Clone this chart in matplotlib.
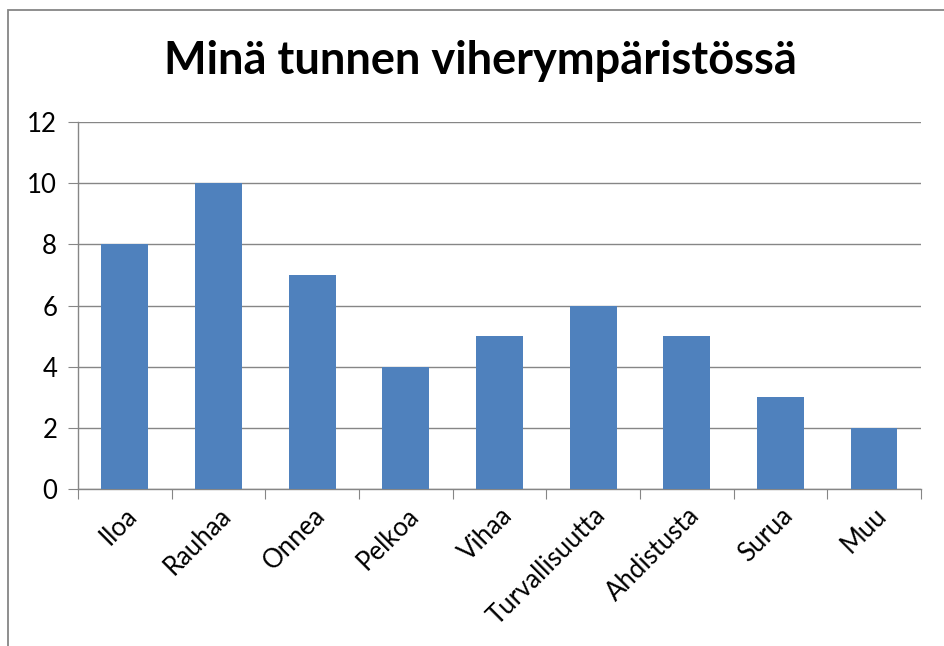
import matplotlib
matplotlib.use("Agg")
import matplotlib.pyplot as plt
from matplotlib.patches import Rectangle

categories = ['Iloa', 'Rauhaa', 'Onnea', 'Pelkoa', 'Vihaa', 'Turvallisuutta',
              'Ahdistusta', 'Surua', 'Muu']
values = [8, 10, 7, 4, 5, 6, 5, 3, 2]
yticks = [0, 2, 4, 6, 8, 10, 12]

plt.rcParams['font.family'] = ['Lato', 'DejaVu Sans']

fig = plt.figure(figsize=(9.45, 6.46), dpi=100)
ax = fig.add_axes([0.0825, 0.243, 0.892, 0.568])

x = range(len(categories))
ax.bar(x, values, width=0.5, color='#4F81BD', zorder=3)

ax.set_xlim(-0.5, len(categories) - 0.5)
ax.set_ylim(0, 12)
ax.set_yticks(yticks)
ax.set_xticks([i - 0.5 for i in range(len(categories) + 1)], minor=False)
ax.set_xticklabels([])
ax.set_xticks(list(x), minor=True)
ax.set_xticklabels(categories, minor=True, rotation=45, ha='right',
                   rotation_mode='anchor', fontsize=18.5)
ax.tick_params(axis='x', which='minor', length=0, pad=10)
ax.tick_params(axis='x', which='major', length=7, color='#868686')
ax.tick_params(axis='y', length=7, color='#868686', labelsize=18.5, pad=8)

ax.grid(axis='y', color='#868686', linewidth=1, zorder=0)
for s in ['top', 'right']:
    ax.spines[s].set_visible(False)
for s in ['left', 'bottom']:
    ax.spines[s].set_color('#868686')
    ax.spines[s].set_linewidth(1)

fig.text(0.508, 0.905, 'Minä tunnen viherympäristössä', ha='center', va='center',
         fontsize=32.5, fontweight='bold')

# chart border
fig.patches.append(Rectangle((8 / 945, -0.1), 1.1, 0.1 + (646 - 10) / 646,
                             transform=fig.transFigure, fill=False,
                             edgecolor='#868686', linewidth=1.3))

fig.savefig('out.png', dpi=100)
